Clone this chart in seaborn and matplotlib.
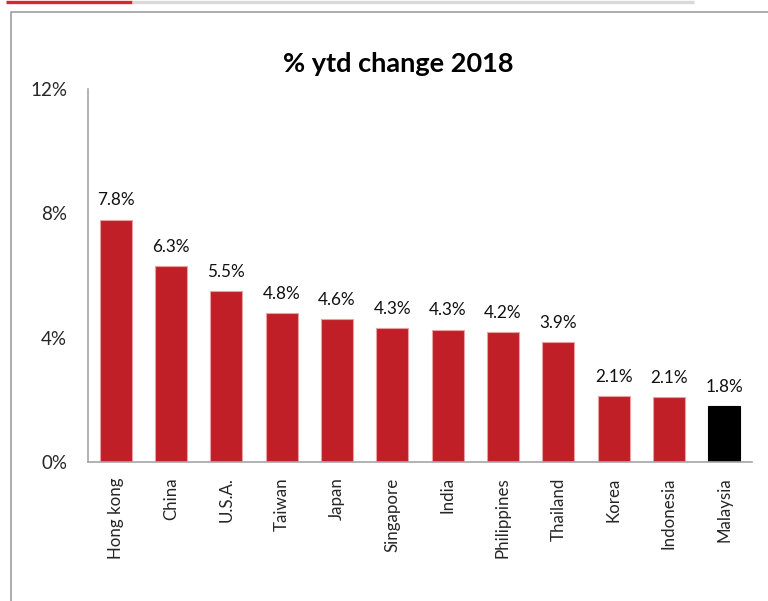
import matplotlib
matplotlib.use("Agg")
import matplotlib.pyplot as plt
import seaborn as sns
import pandas as pd
from matplotlib.lines import Line2D

countries = ["Hong kong", "China", "U.S.A.", "Taiwan", "Japan", "Singapore",
             "India", "Philippines", "Thailand", "Korea", "Indonesia", "Malaysia"]
values = [7.8, 6.3, 5.5, 4.8, 4.6, 4.32, 4.26, 4.17, 3.86, 2.12, 2.1, 1.8]
bar_colors = ["#C01F27"] * 11 + ["#000000"]
y_ticks = [0, 4, 8, 12]
y_tick_labels = ["0%", "4%", "8%", "12%"]
title = "% ytd change 2018"

sns.set_theme(style="white")
plt.rcParams["font.family"] = ["Lato", "DejaVu Sans"]

df = pd.DataFrame({"country": countries, "value": values})

fig = plt.figure(figsize=(7.68, 6.01), dpi=100)
ax = fig.add_axes([88 / 768, 1 - 462 / 601, (752 - 88) / 768, (462 - 89) / 601])

sns.barplot(data=df, x="country", y="value", hue="country", palette=bar_colors,
            legend=False, width=0.58, ax=ax, saturation=1, linewidth=0.8,
            edgecolor="#E8A0A4")
for p, c in zip(ax.patches, bar_colors):
    if c == "#000000":
        p.set_edgecolor("#000000")

for i, v in enumerate(values):
    ax.annotate(f"{v:.1f}%", (i, v), xytext=(0, 8), textcoords="offset points",
                ha="center", va="bottom", fontsize=12.3, color="#111111")

ax.set_ylim(0, 12)
ax.set_xlim(-0.5, len(countries) - 0.5)
ax.set_yticks(y_ticks)
ax.set_yticklabels(y_tick_labels, fontsize=13.5)
ax.tick_params(axis="y", length=0, pad=15)
ax.tick_params(axis="x", length=0, pad=11, labelsize=12.2)
plt.setp(ax.get_xticklabels(), rotation=90)
ax.set_xlabel("")
ax.set_ylabel("")
for s in ["top", "right"]:
    ax.spines[s].set_visible(False)
for s in ["left", "bottom"]:
    ax.spines[s].set_color("#A6A6A6")
    ax.spines[s].set_linewidth(1.2)

fig.text(398 / 768, 1 - 64 / 601, title, ha="center", va="center",
         fontsize=19.5, fontweight="bold", color="#000000")

# decorative header bars and frame
fig.add_artist(Line2D([6 / 768, 132 / 768], [1 - 1.5 / 601] * 2, color="#D7262E",
                      linewidth=2.4, transform=fig.transFigure, solid_capstyle="butt"))
fig.add_artist(Line2D([132 / 768, 694 / 768], [1 - 1.5 / 601] * 2, color="#D9D9D9",
                      linewidth=2.4, transform=fig.transFigure, solid_capstyle="butt"))
fig.add_artist(Line2D([10.5 / 768, 10.5 / 768, 1.0], [0, 1 - 12 / 601, 1 - 12 / 601],
                      color="#9E9E9E", linewidth=1.2, transform=fig.transFigure))

fig.savefig("out.png", dpi=100)
